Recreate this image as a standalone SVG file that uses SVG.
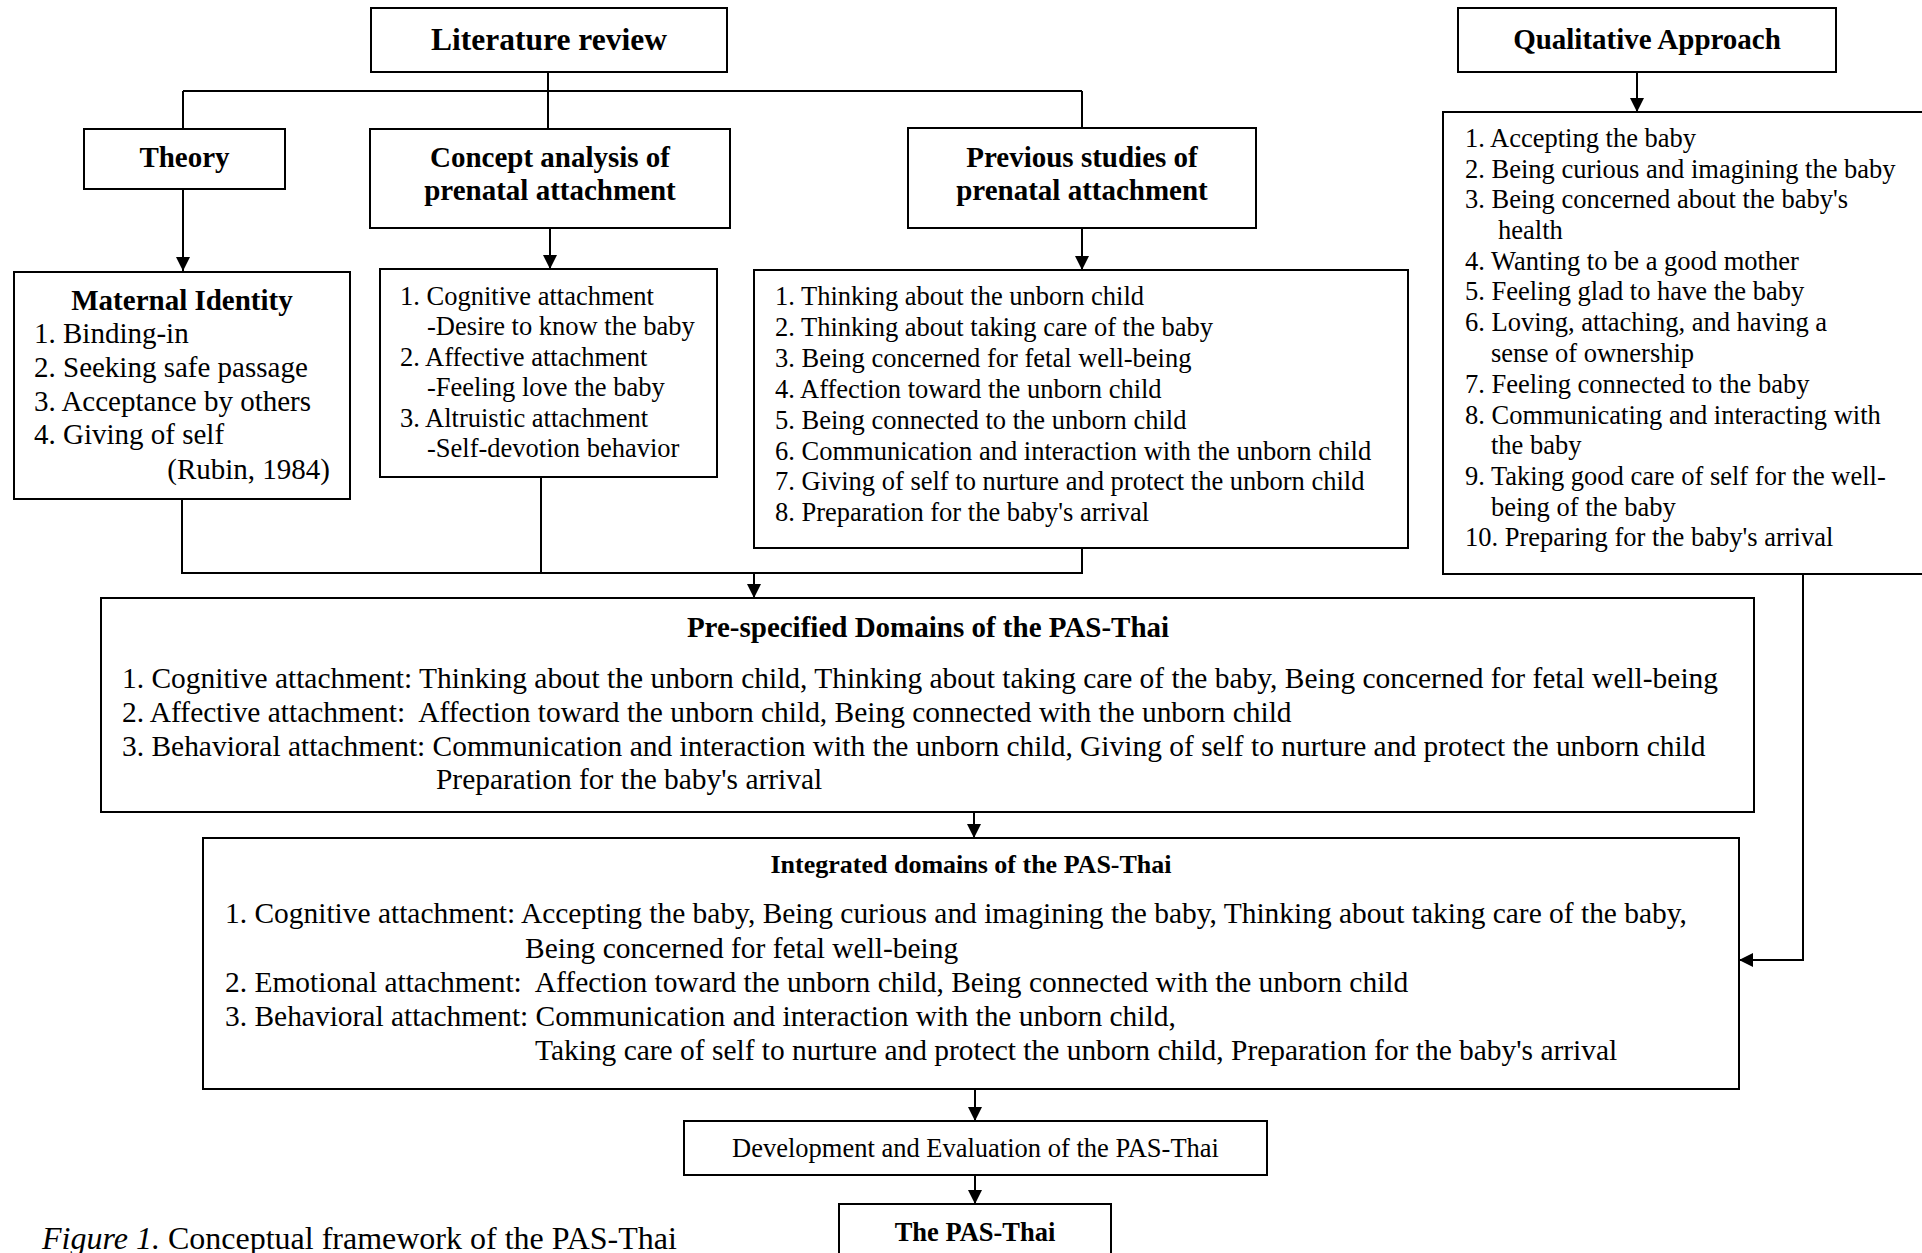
<svg xmlns="http://www.w3.org/2000/svg" width="1922" height="1253" viewBox="0 0 1922 1253">
<style>
text{font-family:"Liberation Serif","Times New Roman",serif;fill:#000}
.b{font-weight:bold}
.c{text-anchor:middle}
.s{font-size:26.5px}
.m{font-size:29px}
.w{font-size:29.45px}
.t{font-size:29px;font-weight:bold;text-anchor:middle}
.box{fill:#fff;stroke:#000;stroke-width:2}
.ln{fill:none;stroke:#000;stroke-width:2}
</style>
<defs>
<marker id="ah" markerUnits="userSpaceOnUse" markerWidth="14" markerHeight="14" viewBox="0 0 14 14" refX="14" refY="7" orient="auto">
<path d="M0,0 L14,7 L0,14 z" fill="#000"/>
</marker>
</defs>
<rect width="1922" height="1253" fill="#fff"/>

<g id="connectors">
<path class="ln" d="M548,72 V91 M183,91 H1082 M183,91 V129 M548,91 V129 M1082,91 V128"/>
<path class="ln" d="M183,189 V271" marker-end="url(#ah)"/>
<path class="ln" d="M550,228 V269" marker-end="url(#ah)"/>
<path class="ln" d="M1082,228 V270" marker-end="url(#ah)"/>
<path class="ln" d="M1637,72 V112" marker-end="url(#ah)"/>
<path class="ln" d="M182,499 V573 H1082 V548 M541,477 V573"/>
<path class="ln" d="M754,573 V598" marker-end="url(#ah)"/>
<path class="ln" d="M1803,574 V960 H1739" marker-end="url(#ah)"/>
<path class="ln" d="M974,812 V838" marker-end="url(#ah)"/>
<path class="ln" d="M975,1089 V1121" marker-end="url(#ah)"/>
<path class="ln" d="M975,1175 V1204" marker-end="url(#ah)"/>
</g>

<g id="literature-review">
<rect class="box" x="371" y="8" width="356" height="64"/>
<text class="b c" x="549" y="50" font-size="31.5">Literature review</text>
</g>

<g id="qualitative-approach">
<rect class="box" x="1458" y="8" width="378" height="64"/>
<text class="t" x="1647" y="49">Qualitative Approach</text>
</g>

<g id="theory">
<rect class="box" x="84" y="129" width="201" height="60"/>
<text class="t" x="184.5" y="167">Theory</text>
</g>

<g id="concept-analysis">
<rect class="box" x="370" y="129" width="360" height="99"/>
<text class="t" x="550" y="167">Concept analysis of</text>
<text class="t" x="550" y="200">prenatal attachment</text>
</g>

<g id="previous-studies">
<rect class="box" x="908" y="128" width="348" height="100"/>
<text class="t" x="1082" y="167">Previous studies of</text>
<text class="t" x="1082" y="200">prenatal attachment</text>
</g>

<g id="maternal-identity">
<rect class="box" x="14" y="272" width="336" height="227"/>
<text class="t" x="182" y="310">Maternal Identity</text>
<text class="m" x="34" y="343">1. Binding-in</text>
<text class="m" x="34" y="377">2. Seeking safe passage</text>
<text class="m" x="34" y="411">3. Acceptance by others</text>
<text class="m" x="34" y="444">4. Giving of self</text>
<text class="m" x="330" y="479" text-anchor="end">(Rubin, 1984)</text>
</g>

<g id="concept-list">
<rect class="box" x="380" y="269" width="337" height="208"/>
<text class="s" x="400" y="305">1. Cognitive attachment</text>
<text class="s" x="427" y="335">-Desire to know the baby</text>
<text class="s" x="400" y="366">2. Affective attachment</text>
<text class="s" x="427" y="396">-Feeling love the baby</text>
<text class="s" x="400" y="427">3. Altruistic attachment</text>
<text class="s" x="427" y="457">-Self-devotion behavior</text>
</g>

<g id="previous-list">
<rect class="box" x="754" y="270" width="654" height="278"/>
<text class="s" x="775" y="305">1. Thinking about the unborn child</text>
<text class="s" x="775" y="336">2. Thinking about taking care of the baby</text>
<text class="s" x="775" y="367">3. Being concerned for fetal well-being</text>
<text class="s" x="775" y="398">4. Affection toward the unborn child</text>
<text class="s" x="775" y="429">5. Being connected to the unborn child</text>
<text class="s" x="775" y="460">6. Communication and interaction with the unborn child</text>
<text class="s" x="775" y="490">7. Giving of self to nurture and protect the unborn child</text>
<text class="s" x="775" y="521">8. Preparation for the baby's arrival</text>
</g>

<g id="qualitative-list">
<rect class="box" x="1443" y="112" width="490" height="462"/>
<text class="s" x="1465" y="147">1. Accepting the baby</text>
<text class="s" x="1465" y="178">2. Being curious and imagining the baby</text>
<text class="s" x="1465" y="208">3. Being concerned about the baby's</text>
<text class="s" x="1498" y="239">health</text>
<text class="s" x="1465" y="270">4. Wanting to be a good mother</text>
<text class="s" x="1465" y="300">5. Feeling glad to have the baby</text>
<text class="s" x="1465" y="331">6. Loving, attaching, and having a</text>
<text class="s" x="1491" y="362">sense of ownership</text>
<text class="s" x="1465" y="393">7. Feeling connected to the baby</text>
<text class="s" x="1465" y="424">8. Communicating and interacting with</text>
<text class="s" x="1491" y="454">the baby</text>
<text class="s" x="1465" y="485">9. Taking good care of self for the well-</text>
<text class="s" x="1491" y="516">being of the baby</text>
<text class="s" x="1465" y="546">10. Preparing for the baby's arrival</text>
</g>

<g id="pre-specified-domains">
<rect class="box" x="101" y="598" width="1653" height="214"/>
<text class="t" x="928" y="637">Pre-specified Domains of the PAS-Thai</text>
<text class="w" x="122" y="688">1. Cognitive attachment: Thinking about the unborn child, Thinking about taking care of the baby, Being concerned for fetal well-being</text>
<text class="w" x="122" y="722" xml:space="preserve">2. Affective attachment:  Affection toward the unborn child, Being connected with the unborn child</text>
<text class="w" x="122" y="756">3. Behavioral attachment: Communication and interaction with the unborn child, Giving of self to nurture and protect the unborn child</text>
<text class="w" x="436" y="789">Preparation for the baby's arrival</text>
</g>

<g id="integrated-domains">
<rect class="box" x="203" y="838" width="1536" height="251"/>
<text class="b c" x="971" y="873" font-size="26px">Integrated domains of the PAS-Thai</text>
<text class="w" x="225" y="923">1. Cognitive attachment: Accepting the baby, Being curious and imagining the baby, Thinking about taking care of the baby,</text>
<text class="w" x="525" y="958">Being concerned for fetal well-being</text>
<text class="w" x="225" y="992" xml:space="preserve">2. Emotional attachment:  Affection toward the unborn child, Being connected with the unborn child</text>
<text class="w" x="225" y="1026">3. Behavioral attachment: Communication and interaction with the unborn child,</text>
<text class="w" x="535" y="1060">Taking care of self to nurture and protect the unborn child, Preparation for the baby's arrival</text>
</g>

<g id="development">
<rect class="box" x="684" y="1121" width="583" height="54"/>
<text class="s c" x="975.5" y="1157">Development and Evaluation of the PAS-Thai</text>
</g>

<g id="pas-thai">
<rect class="box" x="839" y="1204" width="272" height="70"/>
<text class="b c" x="975" y="1241" font-size="26.5px">The PAS-Thai</text>
</g>

<text x="42" y="1249" font-size="32px"><tspan font-style="italic">Figure 1.</tspan> Conceptual framework of the PAS-Thai</text>
</svg>
